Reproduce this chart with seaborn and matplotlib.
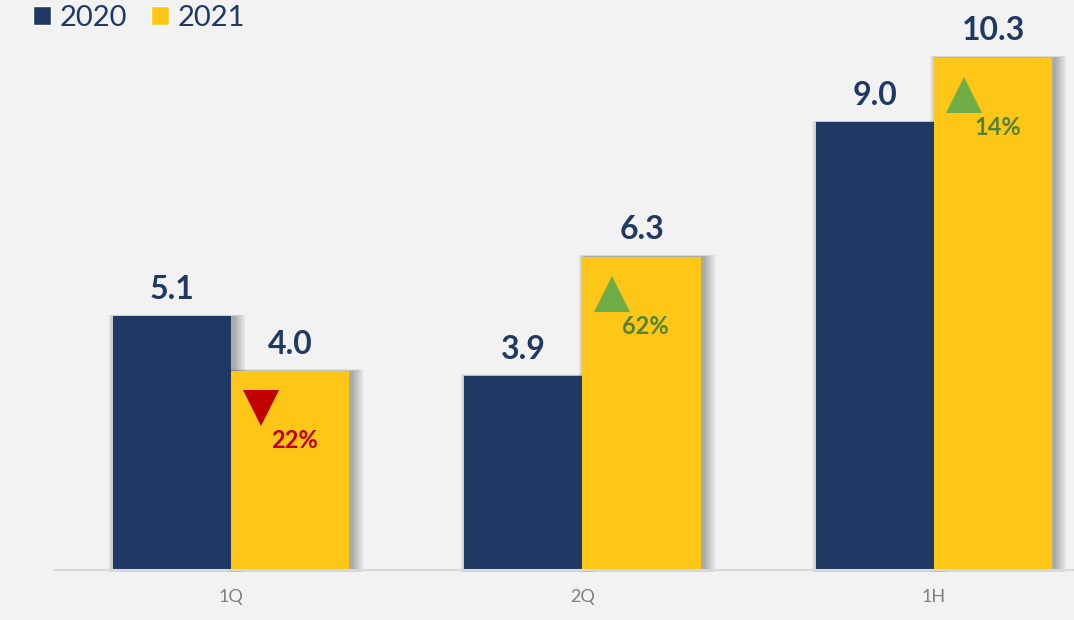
import pandas as pd
import matplotlib.pyplot as plt
from matplotlib.patches import Patch, Rectangle
import seaborn as sns

categories = ['1Q', '2Q', '1H']
years = ['2020', '2021']
values_2020 = [5.1, 3.9, 9.0]
values_2021 = [4.0, 6.3, 10.3]
change_pct = [22, 62, 14]
change_up = [False, True, True]

navy = '#1f3864'
yellow = '#fec616'
bg = '#f2f2f2'

df = pd.DataFrame({
    'period': categories * 2,
    'year': [years[0]] * 3 + [years[1]] * 3,
    'value': values_2020 + values_2021,
})

sns.set_theme(style='white')
plt.rcParams['font.family'] = ['Lato', 'DejaVu Sans']

fig = plt.figure(figsize=(10.74, 6.2), dpi=100, facecolor=bg)
ax = fig.add_axes([55 / 1074, 50 / 620, 1 - 55 / 1074, 570 / 620])
ax.set_facecolor(bg)

sns.barplot(data=df, x='period', y='value', hue='year', order=categories,
            hue_order=years, palette=[navy, yellow], width=0.672,
            saturation=1, legend=False, ax=ax, zorder=3, linewidth=0)

ax.set_xlim(-0.5, 2.398)
ax.set_ylim(0, 11.46)

# soft drop shadow behind each bar, mostly to the right
px_x = 1 / 351.5
px_y = 1 / 49.75
bars = [p for c in ax.containers for p in c]
for b in bars:
    x0, w, h = b.get_x(), b.get_width(), b.get_height()
    for pad in [1, 3, 5, 7, 9, 11]:
        ax.add_patch(Rectangle((x0 - pad * 0.6 * px_x + 3 * px_x, -pad * 0.2 * px_y),
                               w + pad * 1.6 * px_x, h + pad * 0.35 * px_y,
                               color='black', alpha=0.055, lw=0, zorder=2,
                               clip_on=False))

for c in ax.containers:
    ax.bar_label(c, fmt='%.1f', padding=9, fontsize=23, fontweight='bold',
                 color=navy, clip_on=False)

# change arrows inside the 2021 bars
for i, v in enumerate(values_2021):
    if change_up[i]:
        col, txt_col, mk = '#70ad47', '#548235', '^'
    else:
        col, txt_col, mk = '#c00000', '#c00000', 'v'
    ax.plot(i + 0.085, v - 0.75, marker=mk, markersize=26, color=col,
            markeredgewidth=0, zorder=5)
    ax.text(i + 0.18, v - 1.4, f'{change_pct[i]}%', ha='center', va='center',
            fontsize=17, fontweight='bold', color=txt_col, zorder=5)

for s in ['top', 'right', 'left']:
    ax.spines[s].set_visible(False)
ax.spines['bottom'].set_color('#d9d9d9')
ax.spines['bottom'].set_linewidth(1.5)
ax.spines['bottom'].set_zorder(4)
ax.set_yticks([])
ax.set_xlabel('')
ax.set_ylabel('')
ax.tick_params(axis='x', length=0, pad=14, labelsize=13, labelcolor='#7f7f7f')

handles = [Patch(facecolor=navy, label='2020'), Patch(facecolor=yellow, label='2021')]
fig.legend(handles=handles, loc='upper left', bbox_to_anchor=(33 / 1074, 1 - 5 / 620),
           ncol=2, frameon=False, fontsize=21, handlelength=0.62, handleheight=0.62,
           handletextpad=0.3, columnspacing=0.8, borderaxespad=0, borderpad=0,
           labelcolor=navy)

fig.savefig('out.png', dpi=100, facecolor=bg)
